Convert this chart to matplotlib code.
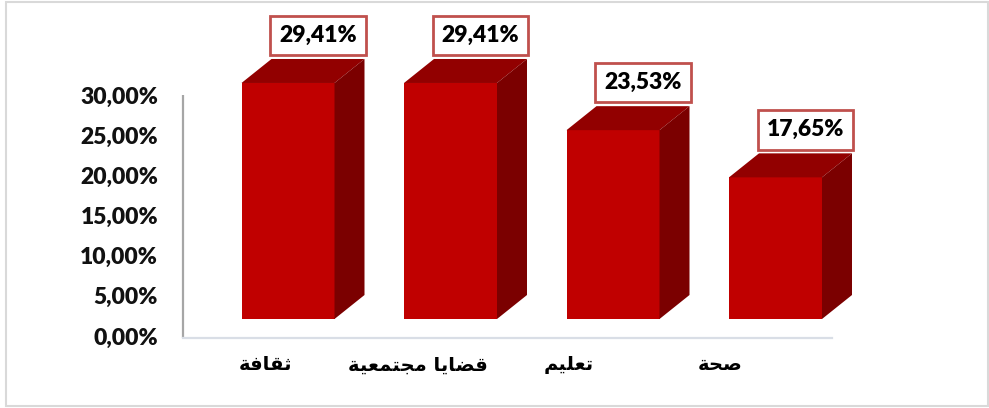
import numpy as np
import matplotlib
matplotlib.use("Agg")
import matplotlib.pyplot as plt
from matplotlib.patches import Polygon, Rectangle
from matplotlib.transforms import ScaledTranslation

# Arabic labels written in presentation forms, in visual (left-to-right) order
categories = [
    "\uFE94\uFED3\uFE8E\uFED8\uFE9B",                                   # ثقافة
    "\uFE94\uFEF4\uFECC\uFEE4\uFE98\uFEA0\uFEE3 \uFE8E\uFEF3\uFE8E\uFEC0\uFED7",  # قضايا مجتمعية
    "\uFEE2\uFEF4\uFEE0\uFECC\uFE97",                                   # تعليم
    "\uFE94\uFEA4\uFEBB",                                               # صحة
]
values = [29.41, 29.41, 23.53, 17.65]
value_labels = ["29,41%", "29,41%", "23,53%", "17,65%"]
yticks = [0, 5, 10, 15, 20, 25, 30]
ytick_labels = ["0,00%", "5,00%", "10,00%", "15,00%", "20,00%", "25,00%", "30,00%"]

W, H, DPI = 989, 408, 100
fig = plt.figure(figsize=(W / DPI, H / DPI), dpi=DPI)
fig.patch.set_facecolor("white")

# outer frame of the chart area
fig.add_artist(Rectangle((6 / W, 2 / H), 982 / W, 404 / H, transform=fig.transFigure,
                         fill=False, edgecolor="#d9d9d9", linewidth=1.5))

# axes geometry (pixels)
px_per_unit = 162.5        # horizontal pixels per category step
px_per_pct = 8.025         # vertical pixels per percentage point
x0_px = 183                # left edge of plot (vertical axis line)
cx0_px = 288               # centre of the first bar's front face
base_px = 319              # baseline of the front faces (from top)
xmin = (x0_px - cx0_px) / px_per_unit
xmax = 3.6
ymax = 40
ax_left = x0_px / W
ax_width = (xmax - xmin) * px_per_unit / W
ax_bottom = (H - base_px) / H
ax_height = ymax * px_per_pct / H
ax = fig.add_axes([ax_left, ax_bottom, ax_width, ax_height])
ax.set_xlim(xmin, xmax)
ax.set_ylim(0, ymax)
ax.axis("off")

def px_offset(dx, dy):
    return ScaledTranslation(dx / DPI, dy / DPI, fig.dpi_scale_trans)

num_font = dict(fontsize=16.5, fontweight="heavy", family=["Lato", "DejaVu Sans"])

front_col = "#C00000"
top_col = "#920000"
side_col = "#7B0000"
bar_w = 93 / px_per_unit
depth_x = 30 / px_per_unit
depth_y = 24 / px_per_pct

x = np.arange(len(values))

# back wall: vertical axis line and floor line, shifted below the front baseline
back = ax.transData + px_offset(0, -19)
ax.plot([xmin, xmin], [0, 30.3], transform=back, color="#a6a6a6", lw=1.6,
        clip_on=False, solid_capstyle="butt")
ax.plot([xmin, 3 + bar_w / 2 + 0.06], [0, 0], transform=back, color="#d9dee6",
        lw=1.6, clip_on=False)

for t, lab in zip(yticks, ytick_labels):
    ax.text(xmin, t, lab, transform=back + px_offset(-25, 0), ha="right", va="center",
            color="#111111", **num_font)

# 3D bars: front faces, then top and side faces built from the same values
ax.bar(x, values, width=bar_w, color=front_col, zorder=3)
for xi, v in zip(x, values):
    l, r = xi - bar_w / 2, xi + bar_w / 2
    top = Polygon([(l, v), (r, v), (r + depth_x, v + depth_y), (l + depth_x, v + depth_y)],
                  closed=True, facecolor=top_col, edgecolor="none", zorder=3)
    side = Polygon([(r, 0), (r, v), (r + depth_x, v + depth_y), (r + depth_x, depth_y)],
                   closed=True, facecolor=side_col, edgecolor="none", zorder=3)
    ax.add_patch(top)
    ax.add_patch(side)

# value labels in boxes above each bar
for xi, v, lab in zip(x, values, value_labels):
    ax.annotate(lab, (xi + depth_x, v + depth_y), xytext=(0, 13), textcoords="offset pixels",
                ha="center", va="bottom", color="black", annotation_clip=False,
                bbox=dict(boxstyle="square,pad=0.4", facecolor="white",
                          edgecolor="#C0504D", linewidth=2), zorder=5, **num_font)

# category labels along the floor
label_step = 151.5 / px_per_unit
label_shift = (266 - cx0_px) / px_per_unit
for i, cat in enumerate(categories):
    ax.text(label_shift + i * label_step, 0, cat, transform=ax.transData + px_offset(0, -46),
            ha="center", va="center", fontsize=14, fontweight="bold",
            family=["DejaVu Sans"], color="black")

fig.savefig("out.png", dpi=DPI, facecolor="white")
